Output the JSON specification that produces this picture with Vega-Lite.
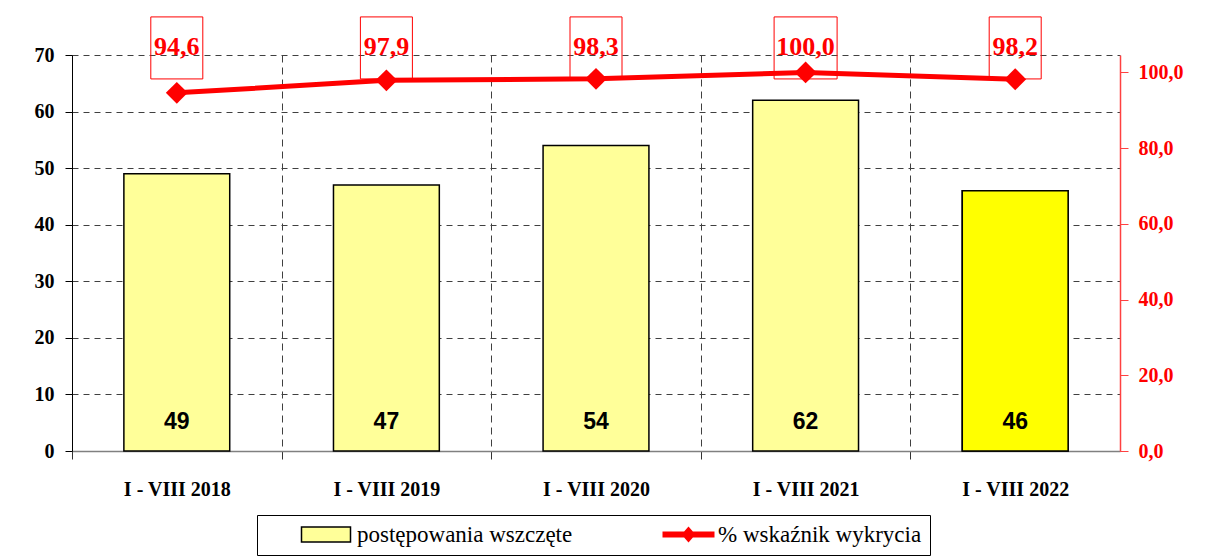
{
  "$schema": "https://vega.github.io/schema/vega-lite/v6.json",
  "width": 1048,
  "height": 396,
  "autosize": {"type": "none"},
  "padding": {"left": 72, "top": 55, "right": 94, "bottom": 105},
  "background": "white",
  "config": {
    "view": {"stroke": null},
    "locale": {"number": {"decimal": ",", "thousands": " ", "grouping": [3], "currency": ["", " zł"]}},
    "axis": {"labelFont": "Liberation Serif", "labelFontWeight": "bold", "labelFontSize": 20}
  },
  "data": {
    "values": [
      {"okres": "I - VIII 2018", "postepowania": 49, "wskaznik": 94.6},
      {"okres": "I - VIII 2019", "postepowania": 47, "wskaznik": 97.9},
      {"okres": "I - VIII 2020", "postepowania": 54, "wskaznik": 98.3},
      {"okres": "I - VIII 2021", "postepowania": 62, "wskaznik": 100.0},
      {"okres": "I - VIII 2022", "postepowania": 46, "wskaznik": 98.2}
    ]
  },
  "encoding": {
    "x": {
      "field": "okres", "type": "nominal", "sort": null,
      "scale": {"paddingInner": 0.495, "paddingOuter": 0.2475},
      "axis": {
        "title": null, "labelAngle": 0, "labelColor": "black",
        "domainColor": "#808080", "domainWidth": 1.5,
        "tickColor": "#333333", "tickSize": 8, "tickOffset": -104.8, "labelOffset": 104.8,
        "grid": true, "gridDash": [7, 5], "gridColor": "#404040", "gridWidth": 1,
        "labelPadding": 20
      }
    }
  },
  "layer": [
    {
      "encoding": {
        "y": {
          "field": "postepowania", "type": "quantitative",
          "scale": {"domain": [0, 70], "nice": false},
          "axis": {
            "orient": "left", "title": null, "values": [0, 10, 20, 30, 40, 50, 60, 70],
            "grid": true, "gridDash": [6, 5], "gridColor": "#404040", "gridWidth": 1,
            "domainColor": "black", "tickColor": "black", "tickSize": 7,
            "labelPadding": 11, "labelColor": "black"
          }
        }
      },
      "layer": [
        {
          "mark": {"type": "bar", "stroke": "black", "strokeWidth": 1.5},
          "encoding": {
            "color": {
              "datum": "postępowania wszczęte", "type": "nominal",
              "scale": {"domain": ["postępowania wszczęte"], "range": ["#FFFF99"]},
              "legend": {
                "title": null, "orient": "none", "legendX": 185, "legendY": 460,
                "labelFont": "Liberation Serif", "labelFontSize": 23, "labelColor": "black", "labelLimit": 1000,
                "padding": 8,
                "symbolType": "M-1,-0.75H3.9V0.75H-1Z", "symbolSize": 400,
                "symbolStrokeColor": "black", "symbolStrokeWidth": 1.5, "symbolOpacity": 1,
                "symbolOffset": 35, "labelOffset": 34
              }
            }
          }
        },
        {
          "transform": [{"filter": "datum.okres === 'I - VIII 2022'"}],
          "mark": {"type": "bar", "color": "#FFFF00", "stroke": "black", "strokeWidth": 1.5}
        },
        {
          "mark": {"type": "text", "font": "Liberation Sans", "fontWeight": "bold", "fontSize": 23, "color": "black", "baseline": "middle", "dy": -29},
          "encoding": {
            "y": {"datum": 0, "type": "quantitative"},
            "text": {"field": "postepowania", "type": "quantitative"}
          }
        }
      ]
    },
    {
      "encoding": {
        "y": {
          "field": "wskaznik", "type": "quantitative",
          "scale": {"domain": [0, 104.6], "nice": false},
          "axis": {
            "orient": "right", "title": null, "values": [0, 20, 40, 60, 80, 100], "format": ".1f",
            "grid": false, "labelColor": "#FF0000", "domainColor": "#FF4040", "domainWidth": 1.5,
            "tickColor": "#FF4040", "tickSize": 8, "labelPadding": 10
          }
        }
      },
      "layer": [
        {
          "transform": [{"filter": "datum.wskaznik < 100"}],
          "mark": {"type": "bar", "width": 52, "fillOpacity": 0, "stroke": "#FF0000", "strokeWidth": 1},
          "encoding": {
            "y": {"datum": 114.66, "type": "quantitative"},
            "y2": {"datum": 98.28}
          }
        },
        {
          "transform": [{"filter": "datum.wskaznik >= 100"}],
          "mark": {"type": "bar", "width": 63, "fillOpacity": 0, "stroke": "#FF0000", "strokeWidth": 1},
          "encoding": {
            "y": {"datum": 114.66, "type": "quantitative"},
            "y2": {"datum": 98.28}
          }
        },
        {
          "mark": {"type": "line", "strokeWidth": 5},
          "encoding": {
            "stroke": {
              "datum": "% wskaźnik wykrycia", "type": "nominal",
              "scale": {"domain": ["% wskaźnik wykrycia"], "range": ["#FF0000"]},
              "legend": {
                "title": null, "orient": "none", "legendX": 185, "legendY": 460,
                "labelFont": "Liberation Serif", "labelFontSize": 23, "labelColor": "black", "labelLimit": 1000,
                "strokeColor": "black", "padding": 8,
                "symbolType": "M-1,-0.3H4.2V0.3H-1Z M1.6,-0.8L2.3,0L1.6,0.8L0.9,0Z", "symbolSize": 400,
                "symbolFillColor": "#FF0000", "symbolStrokeWidth": 0, "symbolOpacity": 1,
                "symbolOffset": 396, "labelOffset": 34,
                "labelExpr": "datum.label + '\u00a0\u00a0\u00a0\u00a0\u00a0\u00a0'"
              }
            }
          }
        },
        {
          "mark": {"type": "point", "shape": "diamond", "size": 480, "filled": true, "color": "#FF0000", "opacity": 1}
        },
        {
          "mark": {"type": "text", "font": "Liberation Serif", "fontWeight": "bold", "fontSize": 26, "color": "#FF0000", "baseline": "middle"},
          "encoding": {
            "y": {"datum": 106.6, "type": "quantitative"},
            "text": {"field": "wskaznik", "type": "quantitative", "format": ".1f"}
          }
        }
      ]
    }
  ],
  "resolve": {"scale": {"y": "independent"}}
}
